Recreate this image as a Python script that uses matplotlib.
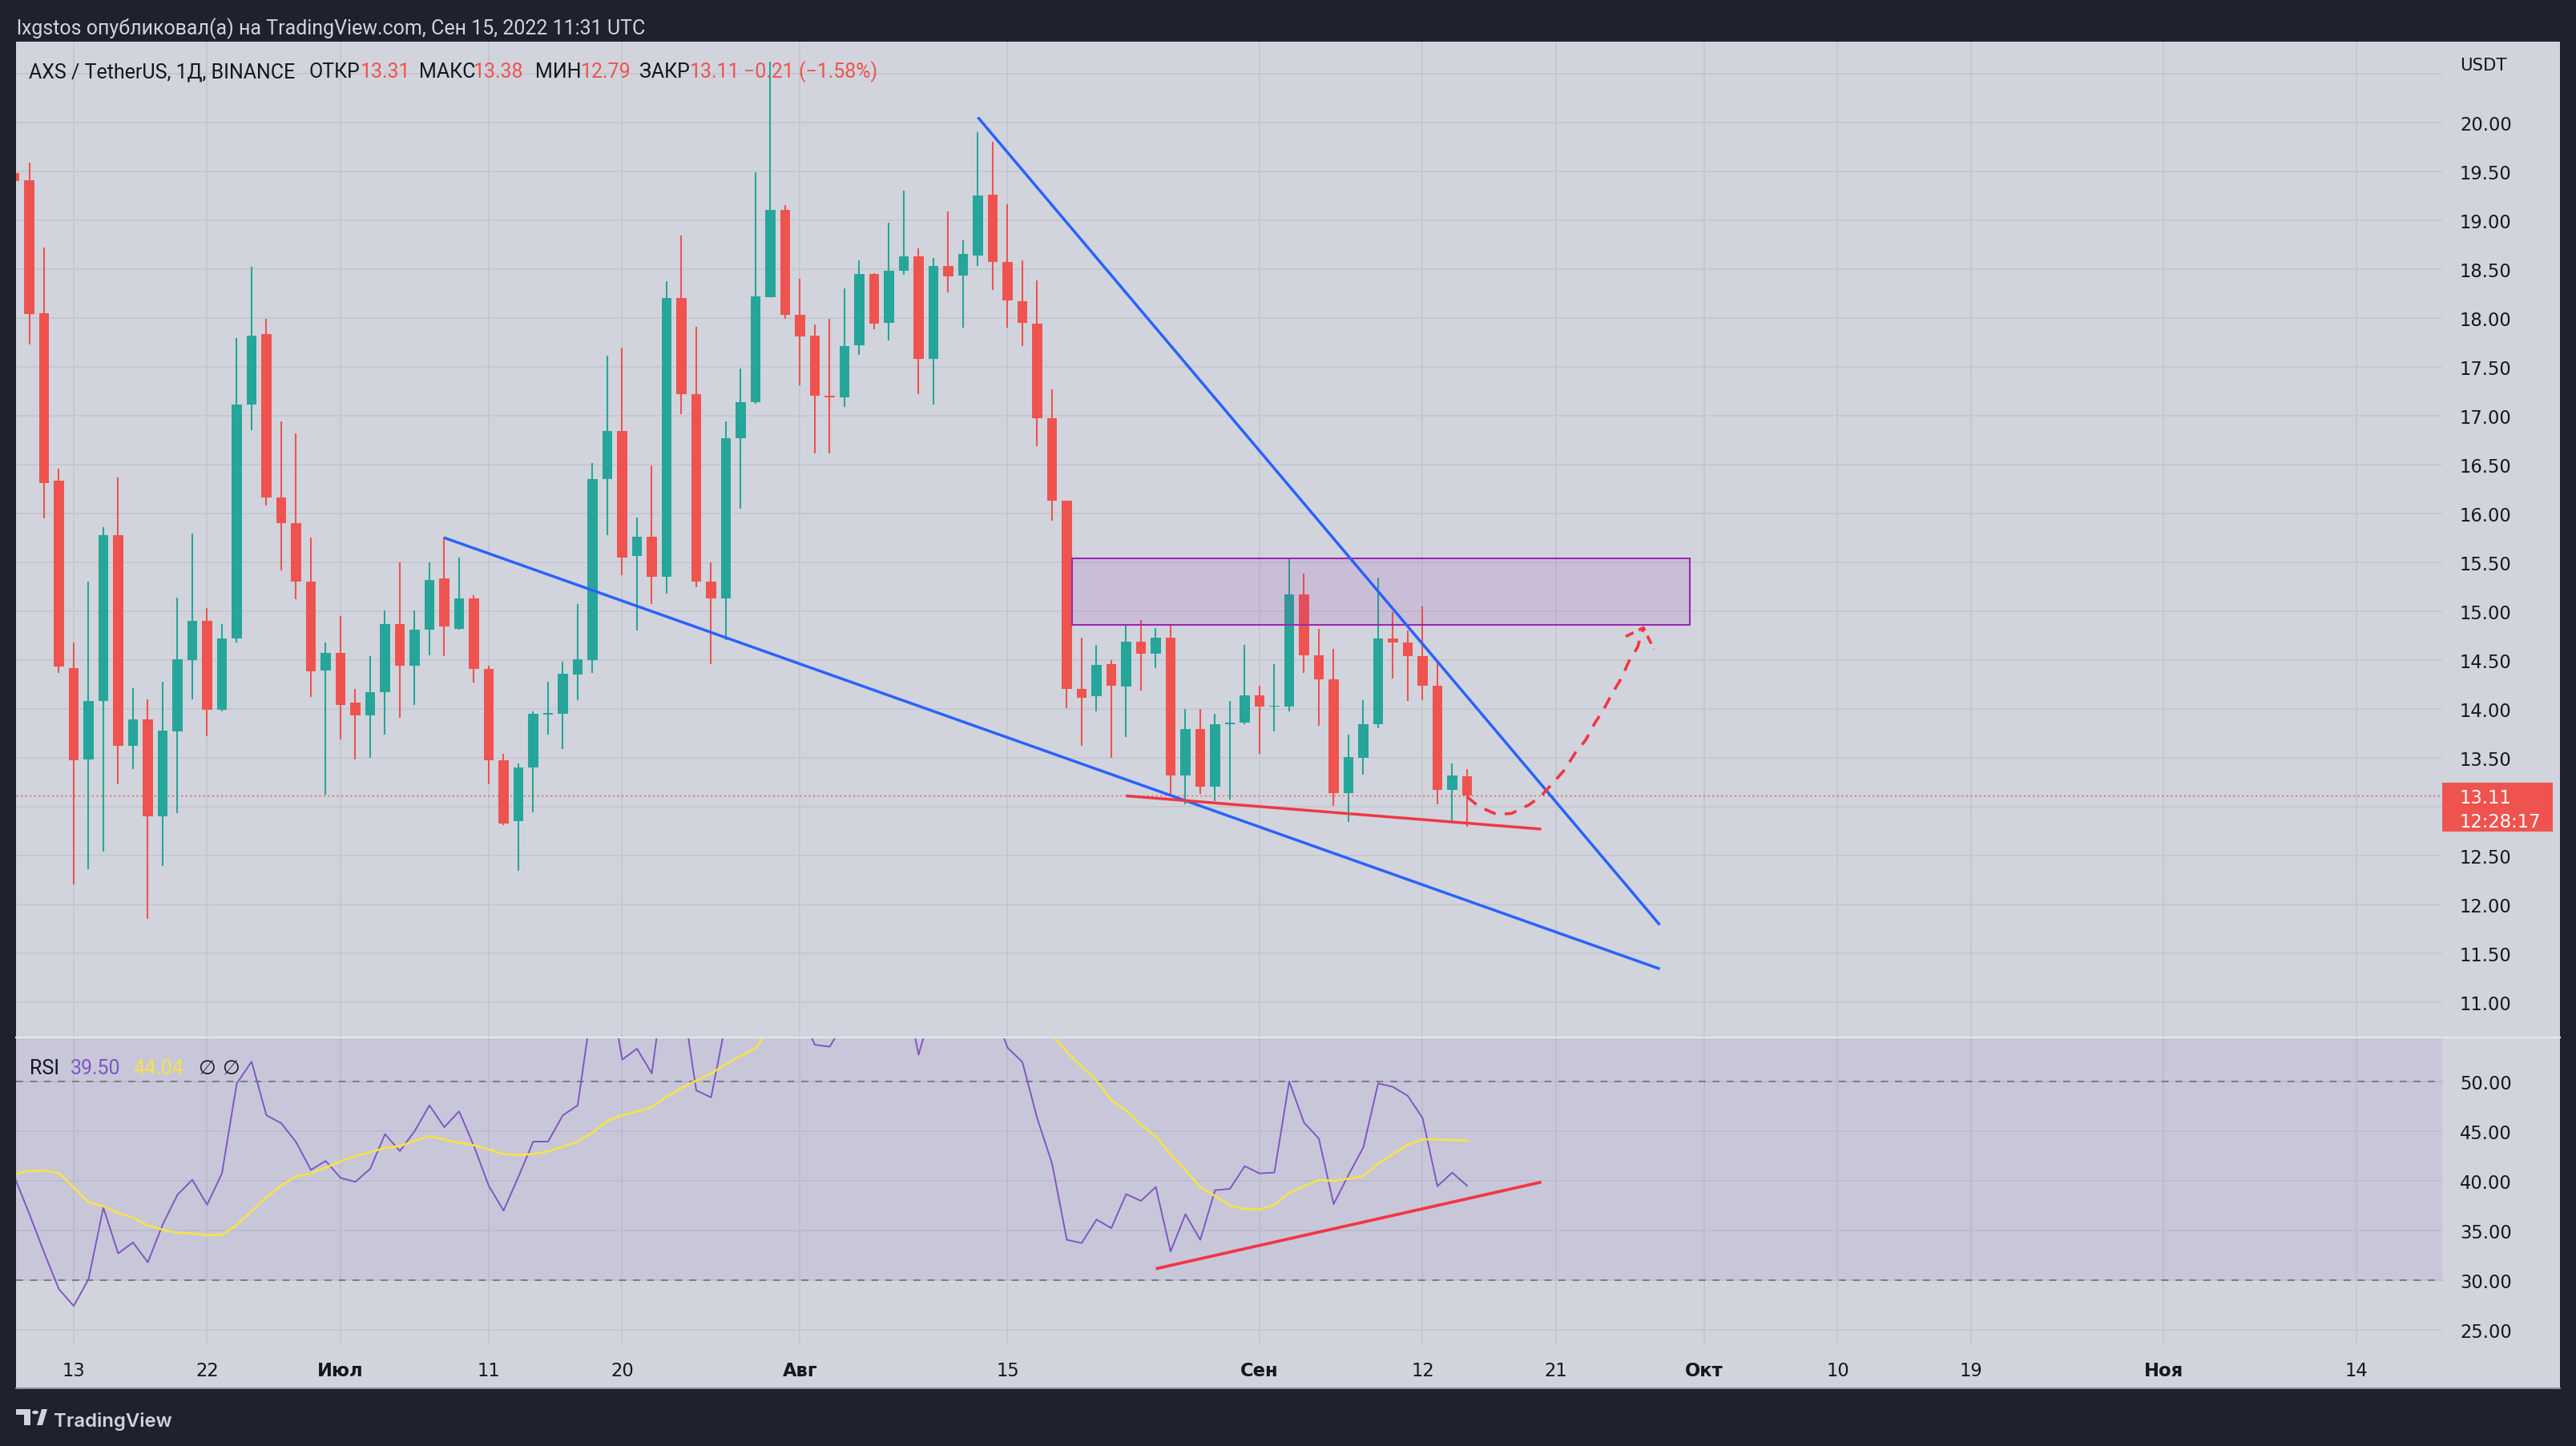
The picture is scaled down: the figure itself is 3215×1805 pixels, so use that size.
import numpy as np
import matplotlib
matplotlib.use("Agg")
import matplotlib.pyplot as plt
import matplotlib.transforms as mtrans
from matplotlib.patches import Rectangle, Polygon, Circle

W, H, DPI = 3216, 1806, 100

# ------------------------------------------------------------------ data
base_date = "2022-06-13"          # day 0 of the x axis
first_date = "2022-06-09"
last_date = "2022-09-15"

opens = [19.48, 19.41, 18.05, 16.33, 14.42, 13.48, 14.08, 15.78, 13.62, 13.89,
         12.90, 13.77, 14.50, 14.90, 13.99, 14.72, 17.11, 17.83, 16.16, 15.90,
         15.30, 14.39, 14.57, 14.06, 13.93, 14.17, 14.87, 14.44, 14.81, 15.33,
         14.82, 15.13, 14.41, 13.47, 12.85, 13.40, 13.94, 13.95, 14.35, 14.50,
         16.35, 16.84, 15.56, 15.76, 15.35, 18.20, 17.22, 15.30, 15.13, 16.77,
         17.14, 18.21, 19.10, 18.03, 17.82, 17.20, 17.19, 17.72, 18.45, 17.95,
         18.48, 18.63, 17.58, 18.53, 18.43, 18.64, 19.26, 18.57, 18.17, 17.94,
         16.97, 16.13, 14.20, 14.13, 14.46, 14.23, 14.69, 14.56, 14.73, 13.32,
         13.79, 13.20, 13.84, 13.86, 14.14, 14.02, 14.02, 15.17, 14.55, 14.30,
         13.14, 13.50, 13.84, 14.72, 14.68, 14.54, 14.24, 13.17, 13.31]
highs = [19.60, 19.59, 18.72, 16.46, 14.68, 15.30, 15.86, 16.37, 14.21, 14.10,
         14.28, 15.14, 15.79, 15.03, 14.87, 17.79, 18.52, 17.99, 16.94, 16.82,
         15.75, 14.68, 14.95, 14.20, 14.54, 15.01, 15.50, 15.01, 15.50, 15.76,
         15.55, 15.16, 14.44, 13.54, 13.44, 13.97, 14.28, 14.48, 15.07, 16.51,
         17.61, 17.69, 15.96, 16.49, 18.37, 18.84, 17.91, 15.50, 16.94, 17.48,
         19.49, 20.62, 19.15, 18.40, 17.93, 17.99, 18.30, 18.59, 18.46, 18.97,
         19.30, 18.71, 18.61, 19.09, 18.79, 19.90, 19.80, 19.16, 18.59, 18.38,
         17.27, 16.13, 14.73, 14.65, 14.50, 14.87, 14.91, 14.83, 14.87, 14.00,
         14.00, 13.95, 14.08, 14.65, 14.24, 14.46, 15.54, 15.38, 14.82, 14.61,
         13.74, 14.09, 15.34, 14.99, 14.80, 15.05, 14.50, 13.44, 13.38]
lows = [19.30, 17.73, 15.95, 14.37, 12.20, 12.36, 12.54, 13.23, 13.38, 11.85,
        12.39, 12.93, 14.10, 13.72, 13.97, 14.68, 16.85, 16.08, 15.42, 15.12,
        14.12, 13.12, 13.69, 13.48, 13.50, 13.74, 13.91, 14.04, 14.55, 14.54,
        14.81, 14.27, 13.23, 12.81, 12.34, 12.94, 13.74, 13.59, 14.09, 14.37,
        15.78, 15.37, 14.80, 15.07, 15.18, 17.01, 15.24, 14.46, 14.70, 16.05,
        17.12, 18.21, 17.99, 17.31, 16.61, 16.61, 17.09, 17.62, 17.88, 17.77,
        18.44, 17.22, 17.11, 18.26, 17.90, 18.53, 18.28, 17.90, 17.71, 16.69,
        15.92, 14.01, 13.62, 13.97, 13.50, 13.71, 14.19, 14.42, 13.12, 13.02,
        13.13, 13.06, 13.07, 13.84, 13.54, 13.77, 13.97, 14.37, 13.83, 13.01,
        12.84, 13.33, 13.80, 14.31, 14.08, 14.09, 13.02, 12.84, 12.79]
closes = [19.40, 18.04, 16.31, 14.43, 13.47, 14.08, 15.78, 13.62, 13.89, 12.90,
          13.78, 14.51, 14.90, 13.99, 14.72, 17.11, 17.82, 16.16, 15.90, 15.30,
          14.38, 14.57, 14.04, 13.93, 14.17, 14.87, 14.44, 14.81, 15.32, 14.84,
          15.13, 14.41, 13.47, 12.83, 13.40, 13.95, 13.96, 14.36, 14.51, 16.35,
          16.84, 15.55, 15.76, 15.35, 18.20, 17.22, 15.30, 15.13, 16.77, 17.14,
          18.22, 19.10, 18.03, 17.81, 17.20, 17.19, 17.71, 18.45, 17.94, 18.48,
          18.63, 17.58, 18.53, 18.42, 18.65, 19.25, 18.57, 18.18, 17.95, 16.97,
          16.13, 14.20, 14.11, 14.45, 14.24, 14.69, 14.56, 14.73, 13.32, 13.79,
          13.20, 13.84, 13.86, 14.14, 14.02, 14.03, 15.17, 14.55, 14.30, 13.14,
          13.51, 13.84, 14.72, 14.68, 14.54, 14.24, 13.17, 13.32, 13.11]

rsi = [40.4, 36.7, 32.8, 29.1, 27.4, 30.1, 37.3, 32.7, 33.8, 31.8,
       35.6, 38.6, 40.1, 37.6, 40.75, 49.8, 52.0, 46.6, 45.8, 43.9,
       41.1, 42.0, 40.3, 39.9, 41.2, 44.7, 43.0, 45.0, 47.6, 45.4,
       47.0, 43.5, 39.5, 37.0, 40.4, 43.95, 43.95, 46.6, 47.6, 58.0,
       61.0, 52.2, 53.3, 50.8, 62.0, 59.0, 49.1, 48.4, 56.0, 58.0,
       63.0, 66.0, 59.0, 57.0, 53.7, 53.5, 56.0, 60.0, 56.5, 59.0,
       60.0, 52.7, 58.0, 57.0, 58.0, 62.0, 57.4, 53.4, 51.96, 46.3,
       41.75, 34.06, 33.74, 36.1, 35.24, 38.66, 37.98, 39.38, 32.88, 36.64,
       34.06, 39.06, 39.19, 41.48, 40.75, 40.83, 50.0, 45.86, 44.25, 37.66,
       40.59, 43.36, 49.81, 49.46, 48.55, 46.32, 39.46, 40.83, 39.50]
rsi_ma = [40.67, 41.02, 41.02, 40.81, 39.33, 37.85, 37.45, 36.77, 36.29, 35.51,
          35.08, 34.76, 34.70, 34.54, 34.54, 35.56, 36.96, 38.33, 39.54, 40.46,
          40.73, 41.34, 41.94, 42.50, 42.88, 43.31, 43.49, 44.03, 44.49, 44.17,
          43.82, 43.58, 43.15, 42.69, 42.61, 42.69, 42.96, 43.44, 43.95, 44.84,
          46.05, 46.59, 46.99, 47.40, 48.47, 49.35, 50.08, 50.80, 51.75, 52.58,
          53.30, 55.50, 56.60, 57.20, 57.60, 57.90, 58.10, 58.30, 58.40, 58.50,
          58.40, 58.30, 58.20, 58.10, 58.00, 57.90, 57.60, 57.10, 56.50, 55.80,
          54.70, 52.96, 51.50, 50.08, 48.12, 47.07, 45.65, 44.44, 42.69, 41.08,
          39.38, 38.47, 37.50, 37.18, 37.12, 37.58, 38.79, 39.46, 40.08, 40.00,
          40.22, 40.46, 41.75, 42.69, 43.63, 44.17, 44.17, 44.11, 44.04]

tick_dates = ["2022-06-13", "2022-06-22", "2022-07-01", "2022-07-11", "2022-07-20",
              "2022-08-01", "2022-08-15", "2022-09-01", "2022-09-12", "2022-09-21",
              "2022-10-01", "2022-10-10", "2022-10-19", "2022-11-01", "2022-11-14"]
tick_labels = ["13", "22", "Июл", "11", "20", "Авг", "15", "Сен", "12", "21",
               "Окт", "10", "19", "Ноя", "14"]
month_labels = ["Июл", "Авг", "Сен", "Окт", "Ноя"]

price_labels = [11.0, 11.5, 12.0, 12.5, 13.0, 13.5, 14.0, 14.5, 15.0, 15.5,
                16.0, 16.5, 17.0, 17.5, 18.0, 18.5, 19.0, 19.5, 20.0]
price_grid = price_labels + [20.5]
rsi_labels = [25, 30, 35, 40, 45, 50]

# drawings (anchor dates / prices)
upper_wedge_dates = ["2022-08-13", "2022-09-28"]
upper_wedge_prices = [20.05, 11.79]
lower_wedge_dates = ["2022-07-08", "2022-09-28"]
lower_wedge_prices = [15.75, 11.34]
support_dates = ["2022-08-23", "2022-09-20"]
support_prices = [13.11, 12.77]
zone_dates = ["2022-08-19T08:24", "2022-09-30T01:00"]
zone_prices = [14.86, 15.54]
rsi_trend_dates = ["2022-08-25", "2022-09-20"]
rsi_trend_values = [31.15, 39.87]
path_days = [94.0, 94.8, 96.0, 97.0, 98.2, 99.0, 99.9, 100.6, 101.3, 102.0,
             102.6, 103.2, 103.8, 104.4, 104.9, 105.5, 105.9]
path_prices = [13.10, 13.00, 12.92, 12.93, 13.02, 13.11, 13.26, 13.38, 13.55, 13.68,
               13.85, 13.99, 14.16, 14.31, 14.48, 14.63, 14.83]
arrow_days = [104.7, 105.9, 106.6]
arrow_prices = [14.74, 14.83, 14.61]
last_price = 13.11

# ------------------------------------------------------------------ helpers
BASE = np.datetime64(base_date, "m")


def day(s):
    return (np.datetime64(s, "m") - BASE) / np.timedelta64(1, "D")


def fx(x):
    return x / W


def fy(y):
    return 1 - y / H


BG = "#1E222D"
PANE = "#D1D4DC"
GRID = "#C4C7CF"
TXT = "#131722"
GREEN = "#26A69A"
RED = "#EF5350"
DRAW_RED = "#F23645"
BLUE = "#2962FF"
UI_FONT = ["Roboto", "DejaVu Sans"]

plt.rcParams["font.family"] = ["DejaVu Sans"]

fig = plt.figure(figsize=(W / DPI, H / DPI), dpi=DPI, facecolor=BG)
renderer = fig.canvas.get_renderer()

# light chart area (panes + axes strips)
fig.add_artist(Rectangle((fx(20.5), fy(1734)), fx(3195) - fx(20.5), fy(53) - fy(1734),
                         transform=fig.transFigure, facecolor=PANE, edgecolor="none", zorder=-5))
fig.add_artist(plt.Line2D([fx(20.5), fx(3195)], [fy(1734), fy(1734)], transform=fig.transFigure,
                          color="#8C909B", lw=1.4))

x_left = (20.5 - 92) / 18.5
x_right = (3048 - 92) / 18.5

ax_p = fig.add_axes([fx(20.5), fy(1296), fx(3048) - fx(20.5), fy(53) - fy(1296)])
ax_r = fig.add_axes([fx(20.5), fy(1679), fx(3048) - fx(20.5), fy(1296) - fy(1679)])
for ax in (ax_p, ax_r):
    ax.set_facecolor(PANE)
    ax.set_xlim(x_left, x_right)
    for sp in ax.spines.values():
        sp.set_visible(False)
    ax.set_xticks([])
    ax.set_yticks([])

ax_p.set_ylim(10.639, 20.824)
ax_r.set_ylim(23.548, 54.435)

tick_x = np.array([day(d) for d in tick_dates])
for ax in (ax_p, ax_r):
    for t in tick_x:
        ax.axvline(t, color=GRID, lw=1.3, zorder=0)
for p in price_grid:
    ax_p.axhline(p, color=GRID, lw=1.3, zorder=0)
for r in rsi_labels:
    ax_r.axhline(r, color=GRID, lw=1.3, zorder=0)

# ------------------------------------------------------------------ candles
dates = np.arange(np.datetime64(first_date), np.datetime64(last_date) + 1)
xd = np.array([day(str(d)) for d in dates])
o, h, l, c = map(np.array, (opens, highs, lows, closes))
cols = np.where(c >= o, GREEN, RED)
ax_p.vlines(xd, l, h, colors=cols, lw=1.5, zorder=2)
ax_p.bar(xd, np.maximum(np.abs(c - o), 0.012), bottom=np.minimum(o, c), width=0.7,
         color=cols, linewidth=0, zorder=3)

# last price dotted line
ax_p.axhline(last_price, color=RED, lw=1.0, ls=(0, (1.5, 2.5)), zorder=2)

# ------------------------------------------------------------------ drawings
zx0, zx1 = day(zone_dates[0]), day(zone_dates[1])
ax_p.add_patch(Rectangle((zx0, zone_prices[0]), zx1 - zx0, zone_prices[1] - zone_prices[0],
                         facecolor="#9C27B0", alpha=0.12, edgecolor="none", zorder=4))
ax_p.add_patch(Rectangle((zx0, zone_prices[0]), zx1 - zx0, zone_prices[1] - zone_prices[0],
                         facecolor="none", edgecolor="#9C27B0", lw=1.5, zorder=4))

ax_p.plot([day(d) for d in upper_wedge_dates], upper_wedge_prices, color=BLUE, lw=2.5,
          solid_capstyle="butt", zorder=5)
ax_p.plot([day(d) for d in lower_wedge_dates], lower_wedge_prices, color=BLUE, lw=2.5,
          solid_capstyle="butt", zorder=5)
ax_p.plot([day(d) for d in support_dates], support_prices, color=DRAW_RED, lw=2.5,
          solid_capstyle="butt", zorder=5)
ax_p.plot(path_days, path_prices, color=DRAW_RED, lw=2.6, ls=(0, (4.2, 3.2)), zorder=5)
ax_p.plot(arrow_days, arrow_prices, color=DRAW_RED, lw=2.6, ls=(0, (3.0, 2.0)), zorder=5)

# ------------------------------------------------------------------ RSI pane
ax_r.axhspan(30, 70, color="#7E57C2", alpha=0.1, lw=0, zorder=0.5)
for lev in (30, 50, 70):
    ax_r.axhline(lev, color="#787B86", lw=1.4, ls=(0, (4.5, 4.5)), zorder=1)
ax_r.plot(xd, rsi, color="#7E57C2", lw=1.4, zorder=3)
ax_r.plot(xd, rsi_ma, color="#F7E247", lw=1.9, zorder=3)
ax_r.plot([day(d) for d in rsi_trend_dates], rsi_trend_values, color=DRAW_RED, lw=2.7,
          solid_capstyle="butt", zorder=4)

# pane separator
fig.add_artist(plt.Line2D([fx(20.5), fx(3195)], [fy(1296), fy(1296)], transform=fig.transFigure,
                          color="#E4E6EC", lw=1.6))

# ------------------------------------------------------------------ axis labels
AX_FS = 16.3
box_top, box_bottom = 978, 1039
tr_p = mtrans.blended_transform_factory(fig.transFigure, ax_p.transData)
for p in price_labels:
    ypix = (1 - ax_p.transData.transform((0, p))[1] / H) * H
    ypix = H - ax_p.transData.transform((0, p))[1]
    if box_top - 12 <= ypix <= box_bottom + 12:
        continue  # hidden behind the last-price label
    fig.text(fx(3070), p, f"{p:.2f}", transform=tr_p, fontsize=AX_FS, color=TXT,
             ha="left", va="center_baseline")
tr_r = mtrans.blended_transform_factory(fig.transFigure, ax_r.transData)
for r in rsi_labels:
    fig.text(fx(3070), r, f"{r:.2f}", transform=tr_r, fontsize=AX_FS, color=TXT,
             ha="left", va="center_baseline")
fig.text(fx(3070), fy(80), "USDT", fontsize=AX_FS - 1, color=TXT, ha="left", va="center_baseline")

tr_t = mtrans.blended_transform_factory(ax_r.transData, fig.transFigure)
for t, lab in zip(tick_x, tick_labels):
    fig.text(t, fy(1718), lab, transform=tr_t, fontsize=AX_FS, color=TXT, ha="center",
             va="baseline", fontweight="bold" if lab in month_labels else "normal")

# last price label box
fig.add_artist(Rectangle((fx(3048), fy(box_bottom)), fx(3186) - fx(3048), fy(box_top) - fy(box_bottom),
                         transform=fig.transFigure, facecolor=RED, edgecolor="none", zorder=6))
fig.text(fx(3070), fy(994), f"{last_price:.2f}", fontsize=AX_FS, color="white",
         ha="left", va="center_baseline", zorder=7)
fig.text(fx(3070), fy(1024), "12:28:17", fontsize=AX_FS, color="white",
         ha="left", va="center_baseline", zorder=7)


# ------------------------------------------------------------------ header / legends
def fit_text(x, y, s, width, **kw):
    t = fig.text(fx(x), fy(y), s, fontsize=20, va="baseline", ha="left", **kw)
    w = t.get_window_extent(renderer).width
    fs = 20 * width / w
    t.set_fontsize(fs)
    return fs


fit_text(21, 43.5, "lxgstos опубликовал(а) на TradingView.com, Сен 15, 2022 11:31 UTC",
         784, color="#D1D4DC", family=UI_FONT)

LEG_FS = fit_text(36, 97, "AXS / TetherUS, 1Д, BINANCE", 333, color=TXT, family=UI_FONT)
legend_parts = [(386, "ОТКР", TXT), (450, "13.31", RED), (523, "МАКС", TXT),
                (591, "13.38", RED), (668, "МИН", TXT), (725, "12.79", RED),
                (798, "ЗАКР", TXT), (861, "13.11", RED), (928, "−0.21 (−1.58%)", RED)]
for x, s, col in legend_parts:
    fig.text(fx(x), fy(97), s, fontsize=LEG_FS, color=col, ha="left", va="baseline",
             family=UI_FONT)

rsi_parts = [(36.6, "RSI", TXT), (88, f"{rsi[-1]:.2f}", "#7E57C2"),
             (166, f"{rsi_ma[-1]:.2f}", "#F7E247"), (247, "∅", TXT), (277, "∅", TXT)]
for x, s, col in rsi_parts:
    fig.text(fx(x), fy(1340.7), s, fontsize=LEG_FS, color=col, ha="left", va="baseline",
             family=["Roboto", "DejaVu Sans"])

# TradingView logo
LOGO = "#D1D4DC"
fig.add_artist(Polygon([(fx(20), fy(1760)), (fx(38), fy(1760)), (fx(38), fy(1780)),
                        (fx(30), fy(1780)), (fx(30), fy(1767)), (fx(20), fy(1767))],
                       closed=True, transform=fig.transFigure, facecolor=LOGO, edgecolor="none"))
fig.add_artist(Circle((fx(44), fy(1764)), 4 / W, transform=fig.transFigure,
                      facecolor=LOGO, edgecolor="none"))
fig.add_artist(Polygon([(fx(46), fy(1780)), (fx(53), fy(1780)), (fx(59), fy(1760)),
                        (fx(52), fy(1760))], closed=True, transform=fig.transFigure,
                       facecolor=LOGO, edgecolor="none"))
fit_text(67, 1781, "TradingView", 148, color=LOGO, family=["Inter", "DejaVu Sans"],
         fontweight="semibold")

fig.savefig("out.png", dpi=DPI, facecolor=BG)
